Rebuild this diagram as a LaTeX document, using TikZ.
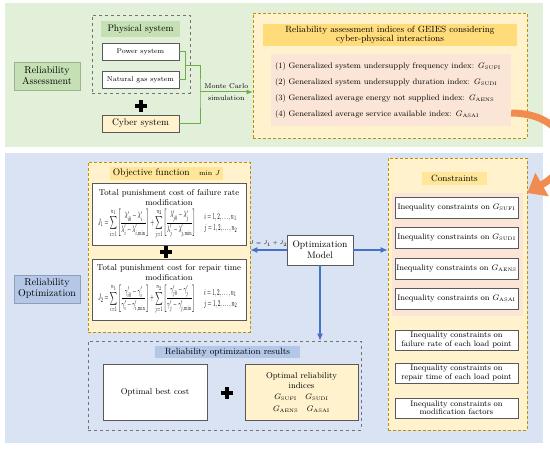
\documentclass[tikz,border=0pt]{standalone}
\usepackage{amsmath}
\usepackage{graphicx}
\usetikzlibrary{arrows.meta, positioning, calc}
\definecolor{panelGreen}{HTML}{E2F0D9}
\definecolor{panelBlue}{HTML}{DAE3F3}
\definecolor{labelGreen}{HTML}{C5E0B4}
\definecolor{labelBlue}{HTML}{B4C7E7}
\definecolor{boxYellow}{HTML}{FFF2CC}
\definecolor{bandYellow}{HTML}{FFE699}
\definecolor{bandOrange}{HTML}{FFDB7A}
\definecolor{pinkFill}{HTML}{FBE5D6}
\definecolor{goldLine}{HTML}{BF9000}
\definecolor{lineGreen}{HTML}{70AD47}
\definecolor{lineBlue}{HTML}{4472C4}
\definecolor{arrowOrange}{HTML}{F08C50}
\newcommand{\gsub}[1]{$G_{\scriptscriptstyle\mathrm{#1}}$}
\newcommand{\failformula}{\resizebox{142pt}{16pt}{$J_1=\displaystyle\sum_{i=1}^{n_1}\left[\frac{\lambda_{i0}'-\lambda_i'}{\lambda_i'-\lambda_{i,\min}'}\right]
  +\sum_{j=1}^{n_2}\left[\frac{\lambda_{j0}'-\lambda_j'}{\lambda_j'-\lambda_{j,\min}'}\right]\quad
  \begin{array}{l} i=1,2,\ldots,n_1\\ j=1,2,\ldots,n_2\end{array}$}}
\newcommand{\repairformula}{\resizebox{142pt}{16pt}{$J_2=\displaystyle\sum_{i=1}^{n_1}\left[\frac{\gamma_{i0}'-\gamma_i'}{\gamma_i'-\gamma_{i,\min}'}\right]
  +\sum_{j=1}^{n_2}\left[\frac{\gamma_{j0}'-\gamma_j'}{\gamma_j'-\gamma_{j,\min}'}\right]\quad
  \begin{array}{l} i=1,2,\ldots,n_1\\ j=1,2,\ldots,n_2\end{array}$}}

\begin{document}
\begin{tikzpicture}[x=1pt, y=-1pt,
    tagbox/.style={draw=#1!80!black, fill=#1, line width=0.8pt, align=center,
      inner sep=0, minimum width=66, minimum height=28, font=\fontsize{10}{11}\selectfont},
    graydash/.style={draw=gray!90!black, dashed, line width=0.6pt, inner sep=0},
    golddash/.style={draw=goldLine, densely dashed, line width=0.6pt, fill=boxYellow, inner sep=0},
    band/.style={inner sep=0, align=center},
    whitebox/.style={draw=gray!70!black, fill=white, line width=0.8pt, inner sep=0, align=center},
    plusmark/.style={minimum size=11, inner sep=0},
    gline/.style={draw=lineGreen, line width=1pt},
    bline/.style={draw=lineBlue, line width=1.2pt, -{Latex[length=7pt, width=6pt]}}]
  \useasboundingbox (0,0) rectangle (550,449);

  % background panels
  \fill[panelGreen] (5,3) rectangle (543,147);
  \fill[panelBlue] (5,153) rectangle (543,443);

  % ---------- reliability assessment ----------
  \node[tagbox=labelGreen] (assess) at (47,76) {Reliability\\Assessment};
  \node[graydash, minimum width=98, minimum height=78] (physdash) at (141,54) {};
  \node[band, fill=labelGreen, minimum width=79, minimum height=16,
    font=\fontsize{9.5}{10}\selectfont] (physlabel) at (140.5,29) {Physical system};
  \node[whitebox, minimum width=77, minimum height=17, font=\fontsize{7}{8}\selectfont]
    (power) at (140.5,51.5) {Power system};
  \node[whitebox, minimum width=77, minimum height=17, font=\fontsize{7}{8}\selectfont]
    (gas) at (140.5,79.5) {Natural gas system};
  \node[plusmark] (plus1) at (141,106) {};
  \node[whitebox, fill=boxYellow, minimum width=77, minimum height=17,
    font=\fontsize{9.5}{10}\selectfont] (cyber) at (140.5,123.5) {Cyber system};

  \node[golddash, minimum width=274, minimum height=125] (idxbox) at (390,75.5) {};
  \node[band, fill=bandOrange, minimum width=254, minimum height=22,
    font=\fontsize{9}{9.5}\selectfont] (idxtitle) at (390,35)
    {Reliability assessment indices of GEIES considering\\cyber-physical interactions};
  \node[band, fill=pinkFill, align=left, text width=232, inner xsep=4, minimum height=72,
    font=\fontsize{8.1}{16}\selectfont] (idxlist) at (391,90)
    {(1) Generalized system undersupply frequency index: \gsub{SUFI}\\
     (2) Generalized system undersupply duration index: \gsub{SUDI}\\
     (3) Generalized average energy not supplied index: \gsub{AENS}\\
     (4) Generalized average service available index: \gsub{ASAI}};

  \draw[gline] (power.east) -- ++(6,0) coordinate (brk) |- (gas.east);
  \coordinate (mc) at (200,92);
  \draw[gline] ($(brk)!0.5!(brk |- gas.east)$) -| (mc) |- (cyber.east);
  \draw[gline, -{Latex[length=6pt, width=5pt]}] (mc) -- (mc -| idxbox.west)
    node[midway, above, font=\fontsize{7}{8}\selectfont] {Monte Carlo}
    node[midway, below, font=\fontsize{7}{8}\selectfont] {simulation};

  % ---------- reliability optimization ----------
  \node[tagbox=labelBlue] (optim) at (47,289) {Reliability\\Optimization};

  \node[golddash, minimum width=162, minimum height=170] (objbox) at (169,247) {};
  \node[band, fill=bandYellow, minimum width=113, minimum height=13,
    font=\fontsize{9.5}{10}\selectfont] (objtitle) at (166.5,173.5)
    {Objective function\quad\fontsize{7}{8}\selectfont min $J$};
  \node[whitebox, minimum width=154, minimum height=62, font=\fontsize{8.5}{10}\selectfont]
    (cost1) at (169,214)
    {Total punishment cost of failure rate\\modification\\[3pt]\failformula};
  \node[plusmark] (plus2) at (166,252) {};
  \node[whitebox, minimum width=154, minimum height=61, font=\fontsize{8.5}{10}\selectfont]
    (cost2) at (169,289.5)
    {Total punishment cost for repair time\\modification\\[3pt]\repairformula};

  \node[whitebox, minimum width=66, minimum height=30, font=\fontsize{9.5}{11}\selectfont]
    (model) at (320,250) {Optimization\\Model};

  \node[golddash, minimum width=139, minimum height=272] (conbox) at (457.5,294) {};
  \node[band, fill=bandYellow, minimum width=65, minimum height=13,
    font=\fontsize{9}{10}\selectfont] (contitle) at (454.5,178.5) {Constraints};
  \node[band, fill=pinkFill, minimum width=131, minimum height=123] (conpink) at (457.5,254.5) {};
  \foreach \name/\y/\idx in {con1/207.5/SUFI, con2/237.5/SUDI, con3/268.5/AENS, con4/299/ASAI}
    \node[whitebox, minimum width=123, minimum height=21, font=\fontsize{8}{9}\selectfont]
      (\name) at (456.5,\y) {Inequality constraints on \gsub{\idx}};
  \foreach \name/\y/\txt in {con5/340/failure rate of each load point,
      con6/373/repair time of each load point, con7/408/modification factors}
    \node[whitebox, minimum width=123, minimum height=20, font=\fontsize{8}{8.5}\selectfont]
      (\name) at (456.5,\y) {Inequality constraints on\\\txt};

  \node[graydash, minimum width=273, minimum height=89] (resbox) at (224.5,385.5) {};
  \node[band, fill=labelBlue, minimum width=145, minimum height=12,
    font=\fontsize{9}{10}\selectfont] (restitle) at (227.5,352) {Reliability optimization results};
  \node[whitebox, minimum width=104, minimum height=56, font=\fontsize{8.5}{10}\selectfont]
    (bestcost) at (155,392.5) {Optimal best cost};
  \node[plusmark] (plus3) at (227,393) {};
  \node[whitebox, fill=boxYellow, minimum width=113, minimum height=56,
    font=\fontsize{8.5}{10}\selectfont] (relidx) at (301.5,392.5)
    {Optimal reliability\\indices\\[1pt]
     \gsub{SUFI}\quad\gsub{SUDI}\\[2pt]\gsub{AENS}\quad\gsub{ASAI}};

  \draw[bline] (model.west) -- (model.west -| objbox.east)
    node[midway, above, font=\fontsize{5}{6}\selectfont] {$J=J_1+J_2$};
  \draw[bline] (model.east) -- (model.east -| conbox.west);
  \draw[bline] (model.south) -- (model.south |- resbox.north);

  % plus signs
  \foreach \p in {plus1, plus2, plus3}
    \draw[line width=3.6pt] (\p.west) -- (\p.east) (\p.north) -- (\p.south);

  % link from the indices to the constraints
  \begin{scope}
    \clip (0,0) rectangle (550,449);
    \draw[arrowOrange, line width=7pt, -{Triangle[length=17pt, width=26pt]}]
      (idxlist.east |- 0,113) .. controls (565,113) and (585,160) .. (conbox.north east |- 0,193);
  \end{scope}
\end{tikzpicture}
\end{document}
